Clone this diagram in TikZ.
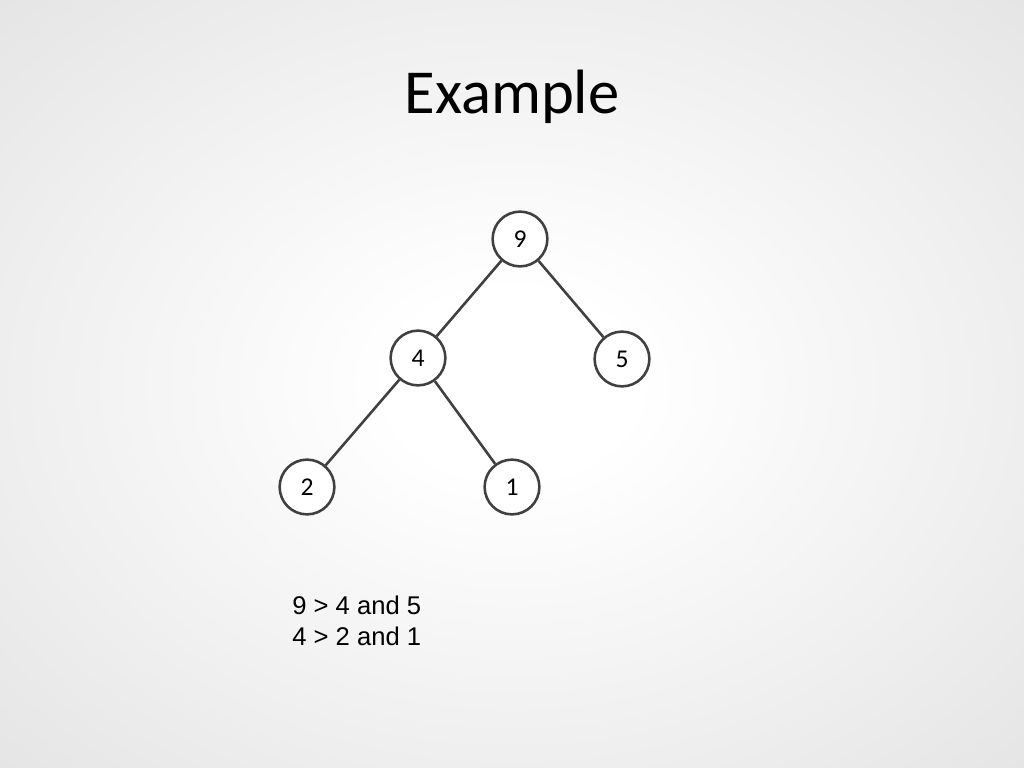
\documentclass[tikz,border=0pt]{standalone}
\usepackage{xcolor}
\usepackage{tikz}
\usepackage{fontspec}
\setmainfont{Carlito}
\newfontfamily\notefont{Liberation Sans}
\usetikzlibrary{positioning}
\definecolor{edgegrey}{RGB}{64,64,64}
\definecolor{bgedge}{RGB}{216,216,216}
\pgfdeclareradialshading{slidebg}{\pgfpoint{0bp}{0bp}}{color(0bp)=(white); color(6bp)=(white); color(50bp)=(bgedge)}

\begin{document}
\begin{tikzpicture}[x=0.703pt,
				y=-0.703pt,
				heapnode/.style={circle, draw=edgegrey, fill=white, line width=1.8pt,
					minimum size=38.5pt, inner sep=0pt, font=\fontsize{18}{21}\selectfont},
				heapedge/.style={draw=edgegrey, line width=1.8pt}]
				\shade[shading=slidebg] (0,0) rectangle (1024,768);
				\useasboundingbox (0,0) rectangle (1024,768);
				\node[anchor=base, font=\fontsize{44}{52}\selectfont] at (512,113) (title) {Example};
				\node[heapnode] at (520,239) (n9) {9};
				\node[heapnode] at (418,358) (n4) {4};
				\node[heapnode] at (622,359) (n5) {5};
				\node[heapnode] at (307,487) (n2) {2};
				\node[heapnode] at (512,487) (n1) {1};
				\draw[heapedge] (n9) -- (n4);
				\draw[heapedge] (n9) -- (n5);
				\draw[heapedge] (n4) -- (n2);
				\draw[heapedge] (n4) -- (n1);
				\node[anchor=base west, align=left, inner sep=0pt,
					font=\notefont\fontsize{18}{21.3}\selectfont] at (292,645) (note) {9 > 4 and 5\\4 > 2 and 1};
			\end{tikzpicture}
\end{document}
